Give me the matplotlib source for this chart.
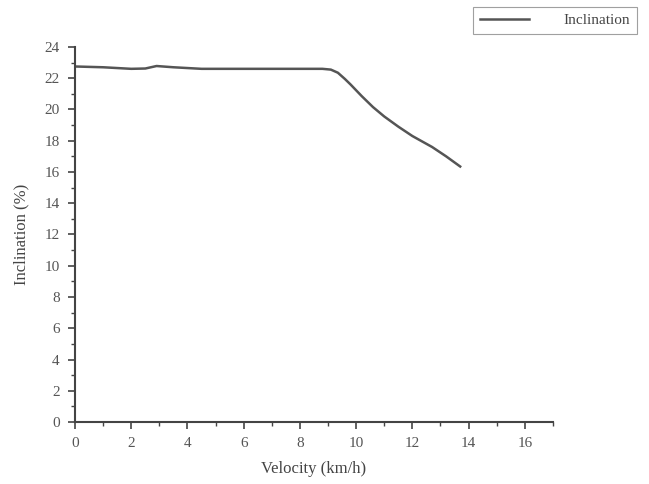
import matplotlib
matplotlib.use("Agg")
from matplotlib import pyplot as plt
from matplotlib.ticker import MultipleLocator

# values
velocity = [0.0, 1.0, 2.0, 2.5, 2.9, 3.5, 4.5, 6.0, 8.0, 8.8, 9.1, 9.35, 9.6, 9.8, 10.2, 10.6, 11.0, 11.5, 12.0, 12.7, 13.2, 13.7]
inclination = [22.75, 22.7, 22.6, 22.62, 22.78, 22.7, 22.6, 22.6, 22.6, 22.6, 22.55, 22.35, 21.95, 21.6, 20.85, 20.15, 19.55, 18.9, 18.3, 17.6, 17.0, 16.35]

plt.rcParams['font.family'] = ['Liberation Serif', 'DejaVu Serif']

fig = plt.figure(figsize=(6.49, 4.84), dpi=100)
ax = fig.add_axes([0.1156, 0.128, 0.7364, 0.775])

ax.plot(velocity, inclination, color='#555555', lw=1.8, label='Inclination')

ax.set_xlim(0, 17)
ax.set_ylim(0, 24)
ax.xaxis.set_major_locator(MultipleLocator(2))
ax.xaxis.set_minor_locator(MultipleLocator(1))
ax.yaxis.set_major_locator(MultipleLocator(2))
ax.yaxis.set_minor_locator(MultipleLocator(1))
ax.tick_params(which='both', direction='out', colors='#444444', labelcolor='#555555', labelsize=11)
ax.tick_params(which='major', length=5, width=1.2, pad=6)
ax.tick_params(which='minor', length=3, width=1)

for side in ['top', 'right']:
    ax.spines[side].set_visible(False)
for side in ['left', 'bottom']:
    ax.spines[side].set_color('#444444')
    ax.spines[side].set_linewidth(1.5)

ax.set_xlabel('Velocity (km/h)', fontsize=12, color='#444444', labelpad=8)
ax.set_ylabel('Inclination (%)', fontsize=12, color='#444444', labelpad=11)

leg = fig.legend(loc='upper right', bbox_to_anchor=(0.982, 0.986), borderaxespad=0,
                 fontsize=11, frameon=True, fancybox=False, edgecolor='#888888',
                 handlelength=3.2, borderpad=0.45, handletextpad=2.3, labelcolor='#444444')
leg.get_frame().set_linewidth(0.8)

fig.savefig('out.png', dpi=100)
